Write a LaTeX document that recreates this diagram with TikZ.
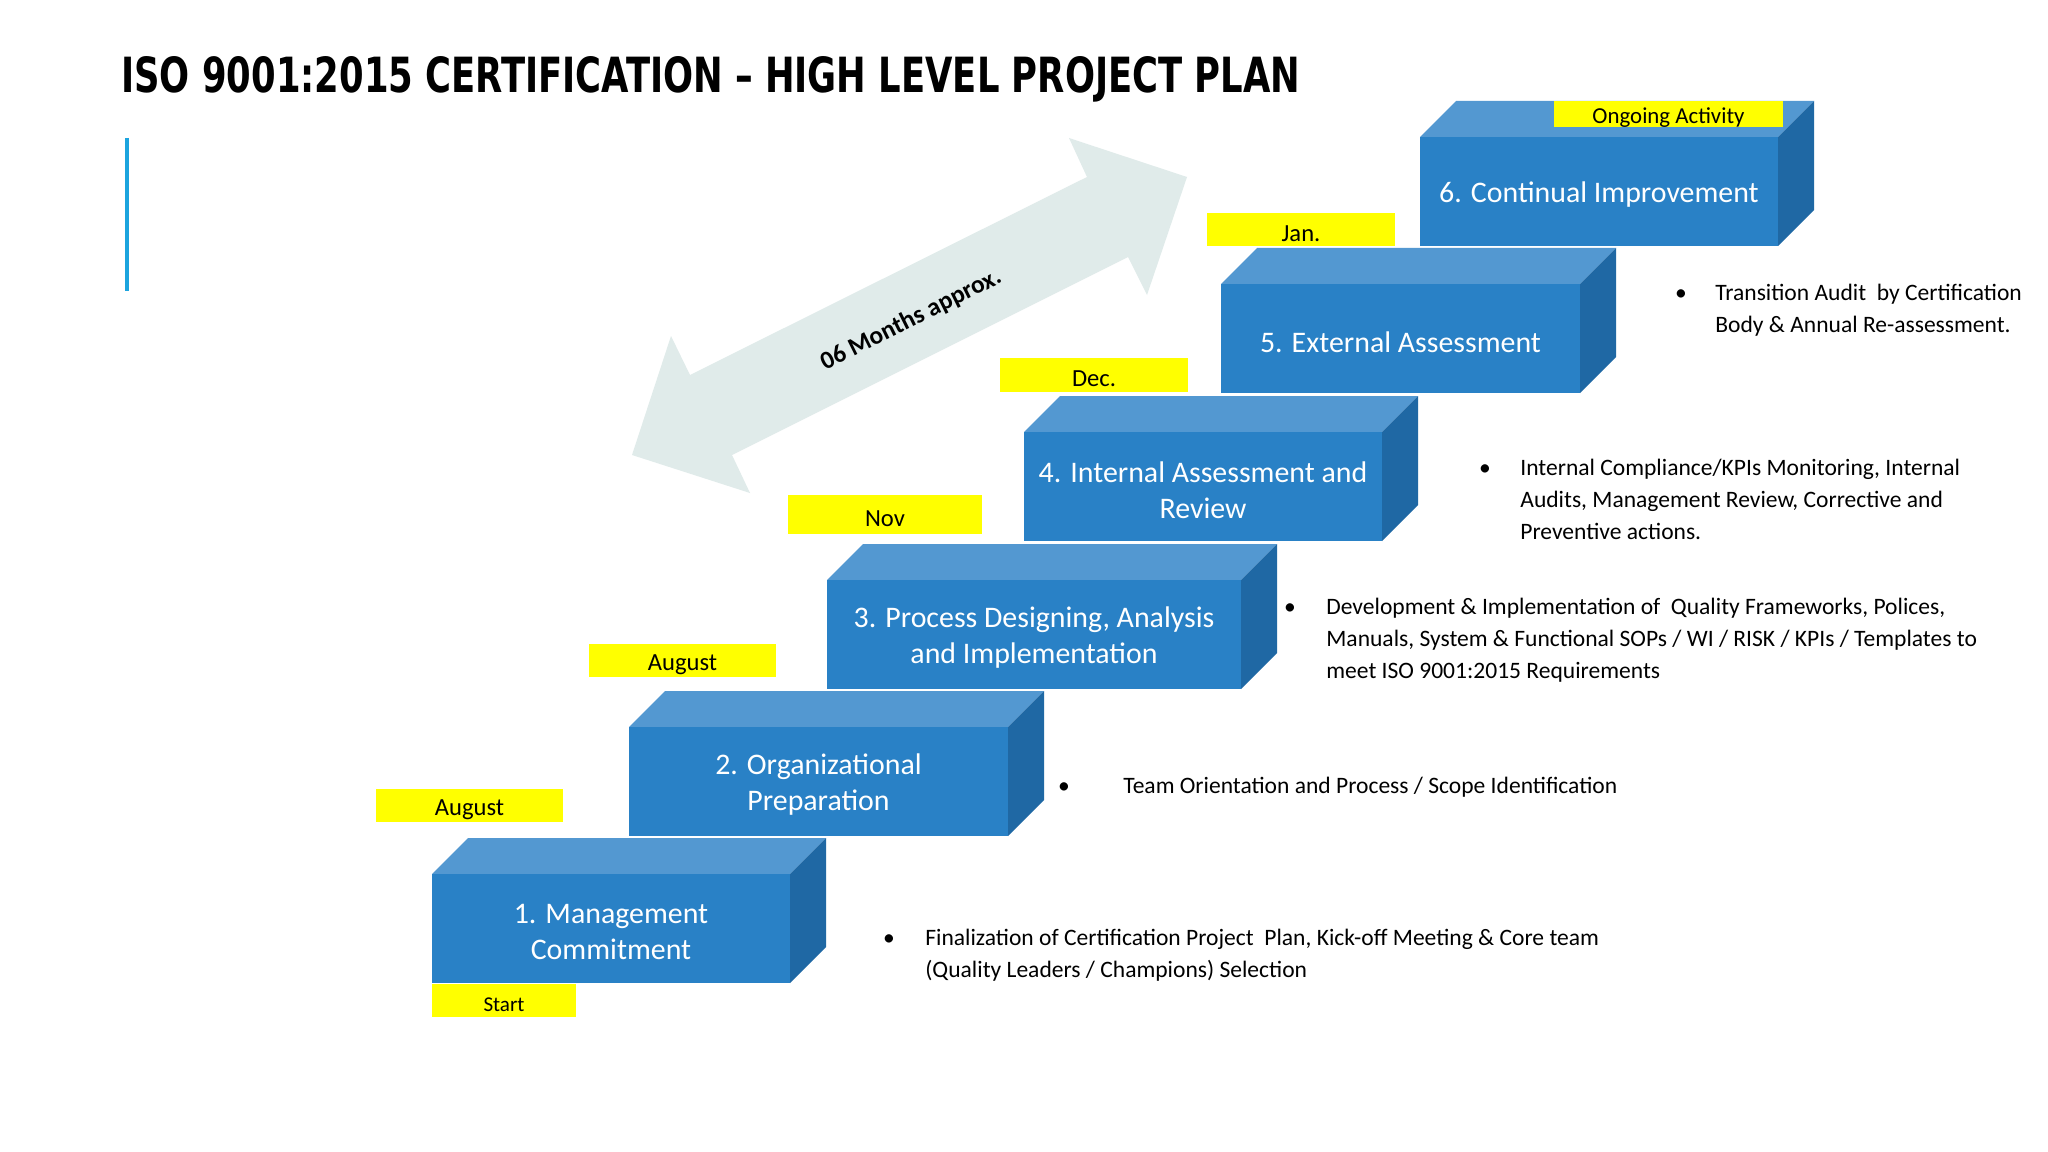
\documentclass[tikz,border=0pt]{standalone}
\usepackage{fontspec}
\setmainfont{Carlito}
\newfontfamily\headfont{DejaVu Sans Condensed}

\definecolor{frontblue}{RGB}{41,129,198}
\definecolor{topblue}{RGB}{83,152,209}
\definecolor{sideblue}{RGB}{31,104,164}
\definecolor{tagyellow}{RGB}{255,255,0}
\definecolor{spanfill}{RGB}{224,235,234}
\definecolor{barblue}{RGB}{28,164,222}

\tikzset{
  blocktext/.style={text=white, align=center, font=\fontsize{17}{20.5}\selectfont},
  tagtext/.style={inner sep=0pt, yshift=-2.2pt},
  note/.style={anchor=base west, align=left, inner sep=0pt, font=\fontsize{13.4}{18.2}\selectfont},
  dot/.style={anchor=base, inner sep=0pt, font=\fontsize{13.4}{16}\selectfont},
}

\begin{document}
\begin{tikzpicture}[x=0.02cm, y=-0.02cm]
    \useasboundingbox (0,0) rectangle (2048,1152);
    \fill[white] (0,0) rectangle (2048,1152);

    % title and side bar
    \node[anchor=base west, inner sep=0pt] (title) at (121,93) {\resizebox{23.58cm}{0.72cm}{\headfont\bfseries ISO 9001:2015 CERTIFICATION – HIGH LEVEL PROJECT PLAN}};
    \draw[barblue, line width=0.08cm] (127,138) -- (127,291);

    % double arrow
    \fill[spanfill] (632,455) -- (671,336) -- (690,375) -- (1087,177) -- (1069,138) -- (1187,177) -- (1147,295) -- (1128,257) -- (732,455) -- (750,493) -- cycle;
    \node[rotate=26.5, font=\bfseries\fontsize{14.4}{16}\selectfont] (span) at (911,320) {06 Months approx.};

    % steps
    \foreach \x/\y/\w/\nm/\txt in {432/874/358/s1/{1. Management\\Commitment},
        629/727/379/s2/{2. Organizational\\Preparation},
        827/580/414/s3/{3. Process Designing, Analysis\\and Implementation},
        1024/432/358/s4/{4. Internal Assessment and\\Review},
        1221/284/359/s5/{5. External Assessment},
        1420/137/358/s6/{6. Continual Improvement}}{
        \fill[topblue] (\x,\y) -- ++(36,-36) -- ++(\w,0) -- ++(-36,36) -- cycle;
        \fill[sideblue] (\x+\w,\y) -- ++(36,-36) -- ++(0,109) -- ++(-36,36) -- cycle;
        \fill[frontblue] (\x,\y) rectangle ++(\w,109);
        \node[blocktext] (\nm) at (\x+\w/2,\y+58) {\txt};
    }

    % month tags
    \foreach \xa/\ya/\xb/\yb/\fs/\nm/\txt in {432/984/576/1017/12/tstart/Start,
        376/789/563/822/14/taug/August,
        589/644/776/677/14/taugb/August,
        788/495/982/534/14/tnov/Nov,
        1000/358/1188/392/14/tdec/Dec.,
        1207/213/1395/246/14/tjan/Jan.,
        1554/101/1783/127/13/tongoing/Ongoing Activity}{
        \fill[tagyellow] (\xa,\ya) rectangle (\xb,\yb);
        \node[tagtext, font=\fontsize{\fs}{16}\selectfont] (\nm) at ({(\xa+\xb)/2},{(\ya+\yb)/2}) {\txt};
    }

    % notes (base = last line)
    \node[dot] (d1) at (889,945) {•};
    \node[note] (n1) at (925,977) {Finalization of Certification Project\ \ Plan, Kick-off Meeting \& Core team\\(Quality Leaders / Champions) Selection};
    \node[dot] (d2) at (1064,793) {•};
    \node[note] (n2) at (1123,793) {Team Orientation and Process / Scope Identification};
    \node[dot] (d3) at (1290,614) {•};
    \node[note] (n3) at (1326,678) {Development \& Implementation of\ \ Quality Frameworks, Polices,\\Manuals, System \& Functional SOPs / WI / RISK / KPIs / Templates to\\meet ISO 9001:2015 Requirements};
    \node[dot] (d4) at (1485,475) {•};
    \node[note] (n4) at (1520,539) {Internal Compliance/KPIs Monitoring, Internal\\Audits, Management Review, Corrective and\\Preventive actions.};
    \node[dot] (d5) at (1681,300) {•};
    \node[note] (n5) at (1715,332) {Transition Audit\ \ by Certification\\Body \& Annual Re-assessment.};
\end{tikzpicture}
\end{document}
